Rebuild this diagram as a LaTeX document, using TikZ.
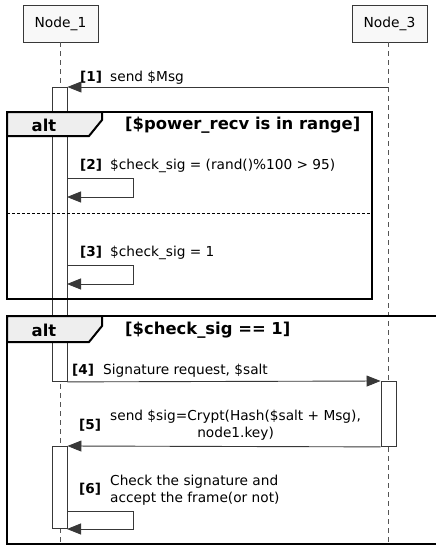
\documentclass[tikz,border=0pt]{standalone}
\usepackage{fontspec}
\setmainfont{DejaVu Sans}
\usetikzlibrary{arrows.meta}
\definecolor{ln}{HTML}{383838}
\definecolor{boxfill}{HTML}{F8F8F8}
\definecolor{tabfill}{HTML}{EEEEEE}
\definecolor{lifeln}{HTML}{555555}
\begin{document}
\begin{tikzpicture}[x=1pt,y=-1pt,
  txt/.style={font=\fontsize{13.7}{16.5}\selectfont, inner sep=0pt},
  num/.style={font=\fontsize{13.6}{16.5}\selectfont\bfseries, inner sep=0pt},
  head/.style={font=\fontsize{16.4}{19}\selectfont\bfseries, inner sep=0pt},
  participant/.style={draw=ln, fill=boxfill, line width=0.9pt, minimum width=75pt, minimum height=37pt, inner sep=0pt, font=\fontsize{13.8}{16}\selectfont},
  lifeline/.style={draw=lifeln, line width=0.9pt, dash pattern=on 5pt off 4pt},
  act/.style={draw=ln, fill=white, line width=0.9pt, minimum width=15pt, inner sep=0pt},
  frame/.style={draw=black, line width=2pt},
  tab/.style={draw=black, fill=tabfill, line width=2pt, line join=miter},
  sep/.style={draw=black, line width=0.9pt, dash pattern=on 3pt off 2pt},
  msg/.style={draw=ln, line width=0.9pt, -{Triangle[length=14pt,width=11pt]}},
]
\useasboundingbox (0,0) rectangle (436,546);
% participants
\node[participant] (n1) at (60.5,23.5) {Node\_1};
\node[participant] (n3) at (389.5,23.5) {Node\_3};
\coordinate (n1end) at (60,546);
\coordinate (n3end) at (388,546);
\draw[lifeline] (n1.south -| n1end) -- (n1end);
\draw[lifeline] (n3.south -| n3end) -- (n3end);
% activations
\node[act, anchor=north, minimum height=294pt] (a1) at (59.5,87) {};
\node[act, anchor=north, minimum height=65pt] (a3) at (388.5,381) {};
\node[act, anchor=north, minimum height=82pt] (a4) at (59.5,446) {};
% frame 1
\draw[frame] (7,112) rectangle (372,299);
\draw[sep] (7,213) -- (372,213);
\draw[tab] (7,112) -- (102,112) -- (102,120) -- (89,136) -- (7,136) -- cycle;
\node[head] (alt1) at (44,125) {alt};
\node[head, anchor=west] (c1) at (125,125) {[\$power\_recv is in range]};
% frame 2
\draw[frame] (7,316) -- (440,316) (7,316) -- (7,544) -- (440,544);
\draw[tab] (7,316) -- (102,316) -- (102,326) -- (89,342) -- (7,342) -- cycle;
\node[head] (alt2) at (44,330) {alt};
\node[head, anchor=west] (c2) at (125,330) {[\$check\_sig == 1]};
% message 1
\coordinate (m1s) at (388,87);
\draw[msg] (m1s) -- (a1.north east);
\node[num, anchor=base west] (l1n) at (80,81) {[1]};
\node[txt, anchor=base west] (l1) at (110,81) {send \$Msg};
% message 2
\coordinate (m2a) at (67,178);
\coordinate (m2b) at (133,178);
\coordinate (m2c) at (133,197);
\coordinate (m2d) at (67,197);
\draw[msg] (m2a) -- (m2b) -- (m2c) -- (m2d);
\node[num, anchor=base west] (l2n) at (80,169) {[2]};
\node[txt, anchor=base west] (l2) at (110,169) {\$check\_sig = (rand()\%100 > 95)};
% message 3
\coordinate (m3a) at (67,265);
\coordinate (m3b) at (133,265);
\coordinate (m3c) at (133,284);
\coordinate (m3d) at (67,284);
\draw[msg] (m3a) -- (m3b) -- (m3c) -- (m3d);
\node[num, anchor=base west] (l3n) at (80,256) {[3]};
\node[txt, anchor=base west] (l3) at (110,256) {\$check\_sig = 1};
% message 4
\draw[msg] (a1.south east) -- (a3.north west);
\node[num, anchor=base west] (l4n) at (72,374) {[4]};
\node[txt, anchor=base west] (l4) at (103,374) {Signature request, \$salt};
% message 5
\draw[msg] (a3.south west) -- (a4.north east);
\node[num, anchor=base west] (l5n) at (79,429) {[5]};
\node[txt, anchor=base west, align=center] (l5) at (110,437) {send \$sig=Crypt(Hash(\$salt + Msg),\\node1.key)};
% message 6
\coordinate (m6a) at (67,511);
\coordinate (m6b) at (133,511);
\coordinate (m6c) at (133,529);
\coordinate (m6d) at (67,529);
\draw[msg] (m6a) -- (m6b) -- (m6c) -- (m6d);
\node[num, anchor=base west] (l6n) at (79,493) {[6]};
\node[txt, anchor=base west, align=left] (l6) at (110,502) {Check the signature and\\accept the frame(or not)};
\end{tikzpicture}
\end{document}
